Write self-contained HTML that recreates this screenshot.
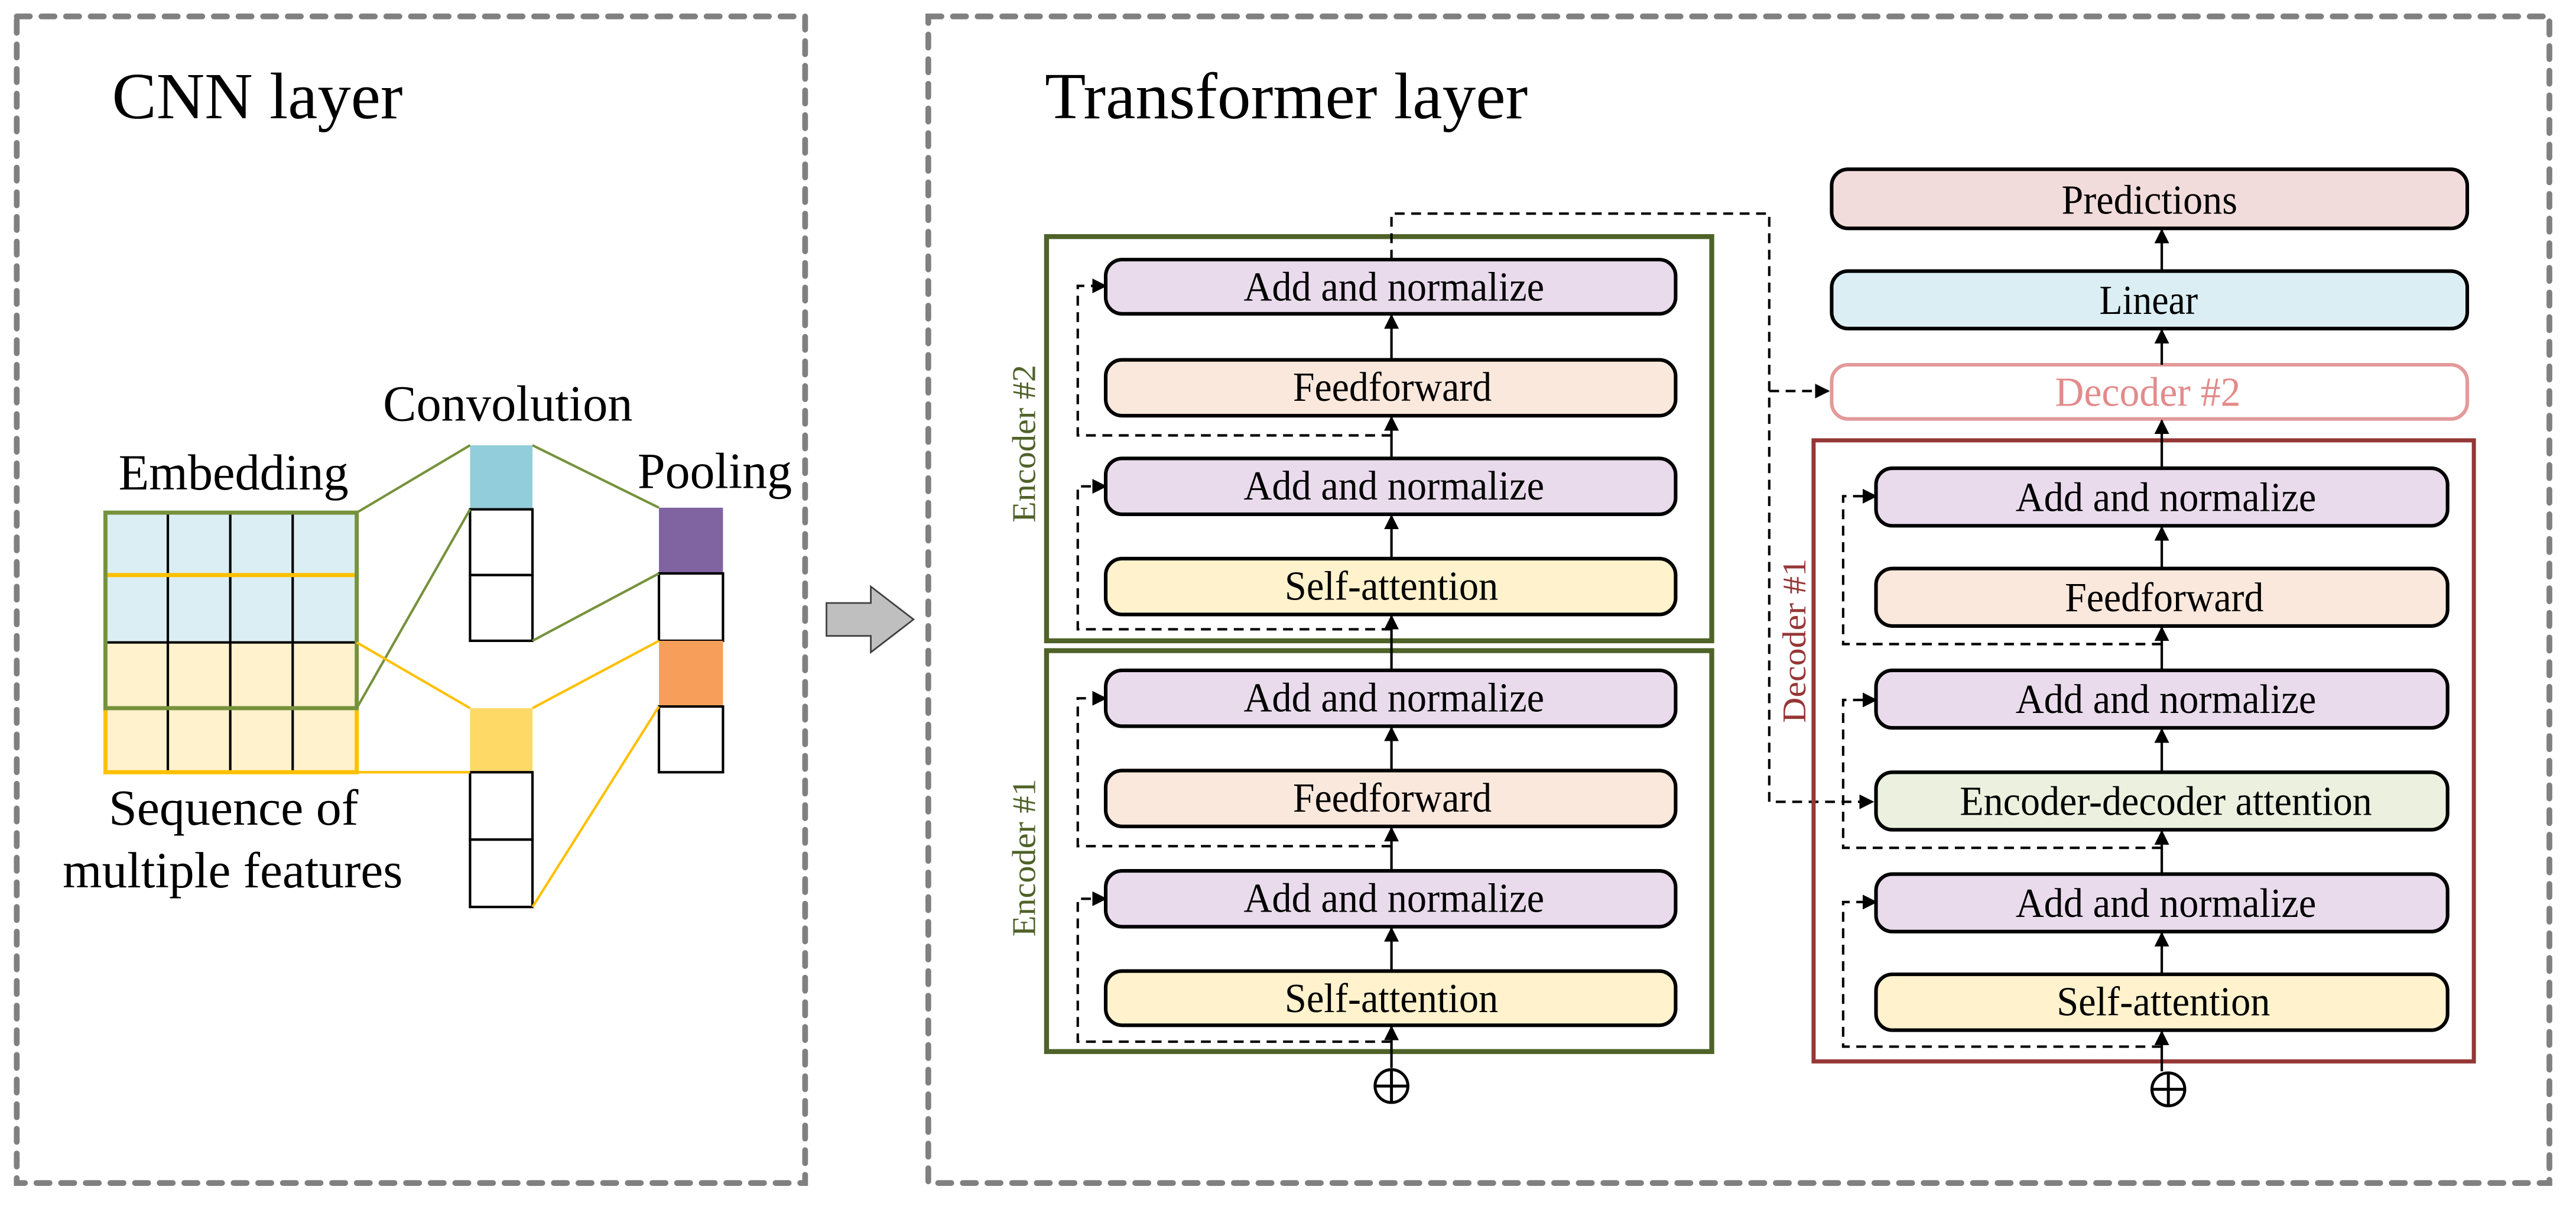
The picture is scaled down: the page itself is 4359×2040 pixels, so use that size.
<!DOCTYPE html>
<html><head><meta charset="utf-8"><style>html,body{margin:0;padding:0;background:#fff}svg{display:block}svg text{font-family:"Liberation Serif","Times New Roman",serif}</style></head>
<body>
<svg width="4359" height="2040" viewBox="0 0 1568 734" xmlns="http://www.w3.org/2000/svg">
<defs>
<marker id="a" viewBox="0 0 10 10" refX="9" refY="5" markerWidth="9" markerHeight="9" markerUnits="userSpaceOnUse" orient="auto"><path d="M0,0L10,5L0,10z" fill="#000"/></marker>
</defs>
<g fill="none" stroke="#808080" stroke-width="3.5" stroke-dasharray="8,7" stroke-linecap="round">
<rect x="10" y="10" width="480" height="710"/>
<rect x="565" y="10" width="987" height="710"/>
</g>
<text x="68" y="72" font-size="40" textLength="177" lengthAdjust="spacingAndGlyphs">CNN layer</text>
<text x="636" y="72" font-size="40" textLength="294" lengthAdjust="spacingAndGlyphs">Transformer layer</text>
<!-- embedding grid -->
<rect x="64" y="312" width="153" height="79" fill="#dbeef3"/>
<rect x="64" y="391" width="153" height="79" fill="#fff2cc"/>
<g stroke="#000" stroke-width="1.5">
<line x1="102" y1="312" x2="102" y2="470"/><line x1="140" y1="312" x2="140" y2="470"/><line x1="178" y1="312" x2="178" y2="470"/>
<line x1="64" y1="391" x2="217" y2="391"/>
</g>
<g fill="none" stroke="#ffc000" stroke-width="2.5">
<line x1="64" y1="350" x2="217" y2="350"/>
<path d="M64,431V470H217V431"/>
</g>
<rect x="64" y="312" width="153" height="119" fill="none" stroke="#76923c" stroke-width="2.5"/>
<text x="72" y="298" font-size="31" textLength="140" lengthAdjust="spacingAndGlyphs">Embedding</text>
<text x="66" y="502" font-size="31" textLength="152" lengthAdjust="spacingAndGlyphs">Sequence of</text>
<text x="38" y="540" font-size="31" textLength="207" lengthAdjust="spacingAndGlyphs">multiple features</text>
<!-- convolution -->
<text x="233" y="256" font-size="31" textLength="152" lengthAdjust="spacingAndGlyphs">Convolution</text>
<rect x="286" y="271" width="38" height="39" fill="#92cddc"/>
<rect x="286" y="310" width="38" height="40" fill="#fff" stroke="#000" stroke-width="1.5"/>
<rect x="286" y="350" width="38" height="40" fill="#fff" stroke="#000" stroke-width="1.5"/>
<rect x="286" y="431" width="38" height="39" fill="#ffd966"/>
<rect x="286" y="470" width="38" height="41" fill="#fff" stroke="#000" stroke-width="1.5"/>
<rect x="286" y="511" width="38" height="41" fill="#fff" stroke="#000" stroke-width="1.5"/>
<!-- pooling -->
<text x="388" y="297" font-size="31" textLength="94" lengthAdjust="spacingAndGlyphs">Pooling</text>
<rect x="401" y="309" width="39" height="40" fill="#8064a2"/>
<rect x="401" y="349" width="39" height="41" fill="#fff" stroke="#000" stroke-width="1.5"/>
<rect x="401" y="390" width="39" height="40" fill="#f79f5a"/>
<rect x="401" y="430" width="39" height="40" fill="#fff" stroke="#000" stroke-width="1.5"/>
<g stroke="#76923c" stroke-width="1.5">
<line x1="217" y1="312" x2="286" y2="271"/><line x1="217" y1="431" x2="286" y2="310"/>
<line x1="324" y1="271" x2="401" y2="309"/><line x1="324" y1="390" x2="401" y2="349"/>
</g>
<g stroke="#ffc000" stroke-width="1.5">
<line x1="217" y1="391" x2="286" y2="431"/><line x1="217" y1="470" x2="286" y2="470"/>
<line x1="324" y1="431" x2="401" y2="390"/><line x1="324" y1="552" x2="401" y2="430"/>
</g>
<!-- big arrow -->
<path d="M503,367H530V357L556,377L530,397V387H503Z" fill="#bfbfbf" stroke="#404040" stroke-width="1"/>
<!-- encoders -->
<g fill="none" stroke="#4f6228" stroke-width="3">
<rect x="637" y="144" width="405" height="246"/>
<rect x="637" y="396" width="405" height="244"/>
</g>
<text transform="translate(630,318) rotate(-90)" font-size="20" fill="#4f6228" textLength="96" lengthAdjust="spacingAndGlyphs">Encoder #2</text>
<text transform="translate(630,570) rotate(-90)" font-size="20" fill="#4f6228" textLength="96" lengthAdjust="spacingAndGlyphs">Encoder #1</text>
<g stroke="#000" stroke-width="2.2">
<rect x="673" y="158" width="347" height="33" rx="10" fill="#e9dbec"/>
<rect x="673" y="219" width="347" height="34" rx="10" fill="#fbe8dc"/>
<rect x="673" y="279" width="347" height="34" rx="10" fill="#e9dbec"/>
<rect x="673" y="340" width="347" height="34" rx="10" fill="#fff2cc"/>
<rect x="673" y="408" width="347" height="34" rx="10" fill="#e9dbec"/>
<rect x="673" y="469" width="347" height="34" rx="10" fill="#fbe8dc"/>
<rect x="673" y="530" width="347" height="34" rx="10" fill="#e9dbec"/>
<rect x="673" y="591" width="347" height="33" rx="10" fill="#fff2cc"/>
</g>
<g font-size="25" lengthAdjust="spacingAndGlyphs">
<text x="757" y="183" textLength="183" lengthAdjust="spacingAndGlyphs">Add and normalize</text>
<text x="787" y="244" textLength="121" lengthAdjust="spacingAndGlyphs">Feedforward</text>
<text x="757" y="304" textLength="183" lengthAdjust="spacingAndGlyphs">Add and normalize</text>
<text x="782" y="365" textLength="130" lengthAdjust="spacingAndGlyphs">Self-attention</text>
<text x="757" y="433" textLength="183" lengthAdjust="spacingAndGlyphs">Add and normalize</text>
<text x="787" y="494" textLength="121" lengthAdjust="spacingAndGlyphs">Feedforward</text>
<text x="757" y="555" textLength="183" lengthAdjust="spacingAndGlyphs">Add and normalize</text>
<text x="782" y="616" textLength="130" lengthAdjust="spacingAndGlyphs">Self-attention</text>
</g>
<g stroke="#000" stroke-width="1.5" marker-end="url(#a)">
<line x1="847" y1="219" x2="847" y2="192"/>
<line x1="847" y1="279" x2="847" y2="254"/>
<line x1="847" y1="340" x2="847" y2="314"/>
<line x1="847" y1="408" x2="847" y2="375"/>
<line x1="847" y1="469" x2="847" y2="443"/>
<line x1="847" y1="530" x2="847" y2="504"/>
<line x1="847" y1="591" x2="847" y2="565"/>
<line x1="847" y1="650" x2="847" y2="625"/>
</g>
<g fill="none" stroke="#000" stroke-width="1.5" stroke-dasharray="6,4" marker-end="url(#a)">
<path d="M847,383H656V296H673"/>
<path d="M847,265H656V174H673"/>
<path d="M847,634H656V547H673"/>
<path d="M847,515H656V425H673"/>
</g>
<circle cx="847" cy="661" r="10" fill="#fff" stroke="#000" stroke-width="1.8"/>
<path d="M837,661H857M847,651V671" stroke="#000" stroke-width="1.8"/>
<!-- encoder->decoder dashed -->
<g fill="none" stroke="#000" stroke-width="1.5" stroke-dasharray="6,4">
<path d="M847,158V130H1077V488H1140" marker-end="url(#a)"/>
<path d="M1077,238H1113" marker-end="url(#a)"/>
</g>
<!-- decoder -->
<rect x="1104" y="268" width="402" height="378" fill="none" stroke="#953735" stroke-width="2.5"/>
<text transform="translate(1099,440) rotate(-90)" font-size="20" fill="#953735" textLength="100" lengthAdjust="spacingAndGlyphs">Decoder #1</text>
<g stroke="#000" stroke-width="2.2">
<rect x="1115" y="103" width="387" height="36" rx="10" fill="#f2dcdb"/>
<rect x="1115" y="165" width="387" height="35" rx="10" fill="#dbeef3"/>
<rect x="1142" y="285" width="348" height="35" rx="10" fill="#e9dbec"/>
<rect x="1142" y="346" width="348" height="35" rx="10" fill="#fbe8dc"/>
<rect x="1142" y="408" width="348" height="35" rx="10" fill="#e9dbec"/>
<rect x="1142" y="470" width="348" height="35" rx="10" fill="#ebf1de"/>
<rect x="1142" y="532" width="348" height="35" rx="10" fill="#e9dbec"/>
<rect x="1142" y="593" width="348" height="34" rx="10" fill="#fff2cc"/>
</g>
<rect x="1115" y="222" width="387" height="33" rx="10" fill="#fff" stroke="#e39a9a" stroke-width="2.2"/>
<g font-size="25">
<text x="1255" y="130" textLength="107" lengthAdjust="spacingAndGlyphs">Predictions</text>
<text x="1278" y="191" textLength="60" lengthAdjust="spacingAndGlyphs">Linear</text>
<text x="1251" y="247" fill="#e38b8b" textLength="113" lengthAdjust="spacingAndGlyphs">Decoder #2</text>
<text x="1227" y="311" textLength="183" lengthAdjust="spacingAndGlyphs">Add and normalize</text>
<text x="1257" y="372" textLength="121" lengthAdjust="spacingAndGlyphs">Feedforward</text>
<text x="1227" y="434" textLength="183" lengthAdjust="spacingAndGlyphs">Add and normalize</text>
<text x="1193" y="496" textLength="251" lengthAdjust="spacingAndGlyphs">Encoder-decoder attention</text>
<text x="1227" y="558" textLength="183" lengthAdjust="spacingAndGlyphs">Add and normalize</text>
<text x="1252" y="618" textLength="130" lengthAdjust="spacingAndGlyphs">Self-attention</text>
</g>
<g stroke="#000" stroke-width="1.5" marker-end="url(#a)">
<line x1="1316" y1="165" x2="1316" y2="140"/>
<line x1="1316" y1="222" x2="1316" y2="201"/>
<line x1="1316" y1="285" x2="1316" y2="256"/>
<line x1="1316" y1="346" x2="1316" y2="321"/>
<line x1="1316" y1="408" x2="1316" y2="382"/>
<line x1="1316" y1="470" x2="1316" y2="444"/>
<line x1="1316" y1="532" x2="1316" y2="506"/>
<line x1="1316" y1="593" x2="1316" y2="568"/>
<line x1="1316" y1="652" x2="1316" y2="628"/>
</g>
<g fill="none" stroke="#000" stroke-width="1.5" stroke-dasharray="6,4" marker-end="url(#a)">
<path d="M1316,637H1122V549H1142"/>
<path d="M1316,516H1122V426H1142"/>
<path d="M1316,392H1122V302H1142"/>
</g>
<circle cx="1320" cy="663" r="10" fill="#fff" stroke="#000" stroke-width="1.8"/>
<path d="M1310,663H1330M1320,653V673" stroke="#000" stroke-width="1.8"/>
</svg>
</body></html>
